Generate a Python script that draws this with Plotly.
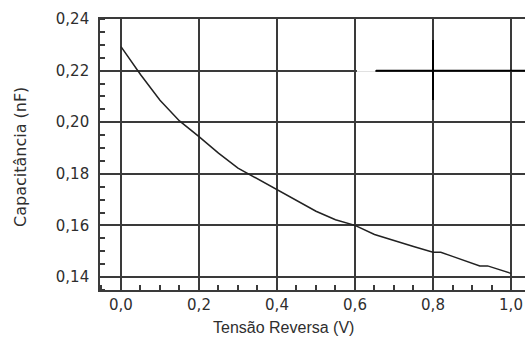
import plotly.graph_objects as go

voltage = [0.00, 0.05, 0.10, 0.15, 0.20, 0.25, 0.30, 0.35, 0.40, 0.45, 0.50,
           0.55, 0.60, 0.65, 0.70, 0.75, 0.80, 0.82, 0.85, 0.90, 0.92, 0.94, 1.00]
capacitance = [0.2293, 0.2185, 0.2085, 0.2005, 0.1944, 0.1880, 0.1822, 0.1780,
               0.1740, 0.1695, 0.1655, 0.1622, 0.1600, 0.1565, 0.1540, 0.1518,
               0.1496, 0.1496, 0.1480, 0.1455, 0.1443, 0.1443, 0.1414]

x_ticks = [0.0, 0.2, 0.4, 0.6, 0.8, 1.0]
y_ticks = [0.14, 0.16, 0.18, 0.20, 0.22, 0.24]

grid_col = "#3a3a3a"
text_col = "#2e2e2e"
font_fam = "DejaVu Sans, Arial, sans-serif"

L, R, T, B = 100, 525, 19, 290
W, H = 525, 341

fig = go.Figure()
fig.add_trace(go.Scatter(x=voltage, y=capacitance, mode="lines",
                         line=dict(color="#222222", width=1.5),
                         showlegend=False, hoverinfo="skip"))

fig.update_layout(
    width=W, height=H,
    margin=dict(l=L, r=W - R, t=T, b=H - B, autoexpand=False),
    paper_bgcolor="white", plot_bgcolor="white",
    separators=",.",
    font=dict(family=font_fam, size=15, color=text_col),
    xaxis=dict(range=[-0.0538, 1.0359], tickvals=x_ticks, tickformat=".1f",
               automargin=False,
               showgrid=True, gridcolor=grid_col, gridwidth=1.6,
               showline=True, linecolor=grid_col, linewidth=1.6, mirror=True,
               ticks="", zeroline=False, ticklabelstandoff=0,
               minor=dict(ticks="inside", ticklen=5, tickcolor=grid_col,
                          tickwidth=1.5, dtick=0.05, tick0=0, showgrid=False),
               tickfont=dict(size=15, color=text_col)),
    yaxis=dict(range=[0.13496, 0.24], tickvals=y_ticks, tickformat=".2f",
               automargin=False,
               showgrid=True, gridcolor=grid_col, gridwidth=1.6,
               showline=True, linecolor=grid_col, linewidth=1.6, mirror=False,
               ticks="", zeroline=False, ticklabelstandoff=6,
               minor=dict(ticks="inside", ticklen=5, tickcolor=grid_col,
                          tickwidth=1.5, dtick=0.005, tick0=0.14, showgrid=False),
               tickfont=dict(size=15, color=text_col)),
)

fig.add_annotation(text="Tensão Reversa (V)", xref="paper", yref="paper",
                   x=(283.5 - L) / (R - L), y=-(327 - B) / (B - T),
                   xanchor="center", yanchor="middle", showarrow=False,
                   font=dict(family="Liberation Sans, Arial, sans-serif",
                             size=16, color=text_col))
fig.add_annotation(text="Capacitância (nF)", xref="paper", yref="paper",
                   x=-(L - 20) / (R - L), y=(B - 157) / (B - T), textangle=-90,
                   xanchor="center", yanchor="middle", showarrow=False,
                   font=dict(size=16, color=text_col))

# gap in 0.22 gridline and crosshair cursor artefact
fig.add_shape(type="line", xref="x", yref="y", x0=0.605, x1=0.652, y0=0.22, y1=0.22,
              line=dict(color="white", width=2.5))
fig.add_shape(type="line", xref="x", yref="y", x0=0.654, x1=1.036, y0=0.22, y1=0.22,
              line=dict(color="black", width=1.6))
fig.add_shape(type="line", xref="x", yref="y", x0=0.8, x1=0.8, y0=0.2086, y1=0.2319,
              line=dict(color="black", width=2))

fig.write_html("out.html", config={"displayModeBar": False},
               post_script="document.body.style.margin='0';")
